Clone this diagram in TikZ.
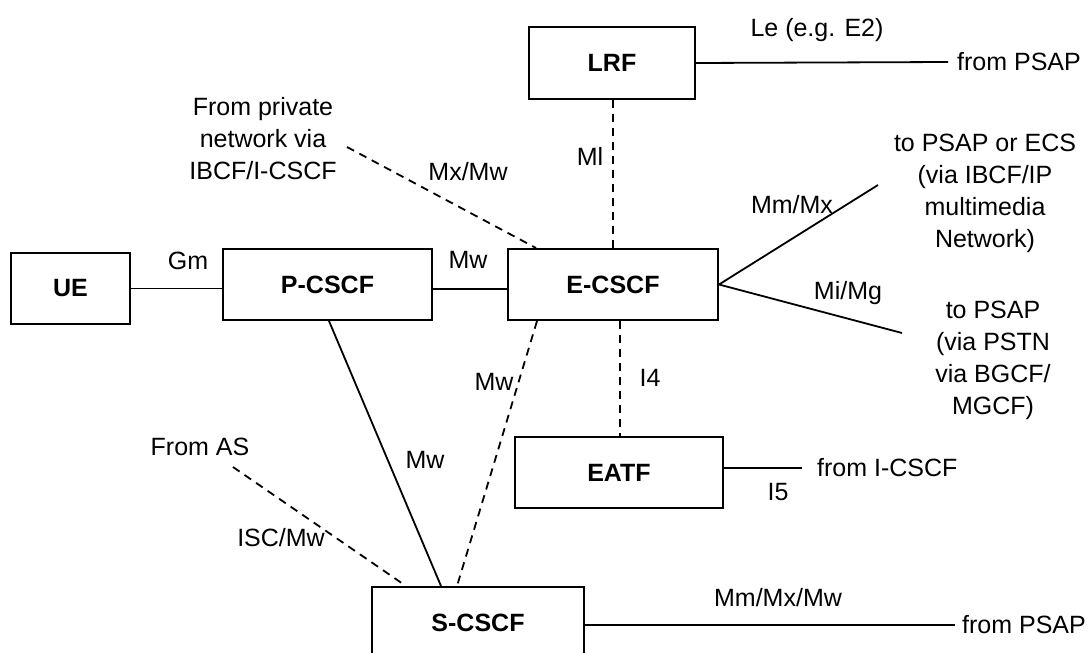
\documentclass[tikz,border=0pt]{standalone}
\usepackage{fontspec}
\setmainfont{Liberation Sans}
\begin{document}
\begin{tikzpicture}[x=1pt,y=-1pt,
  box/.style={draw,line width=2pt,font=\bfseries\fontsize{25}{30}\selectfont,minimum height=71pt,inner sep=0pt},
  lbl/.style={font=\fontsize{25}{30}\selectfont,inner sep=0pt},
  txt/.style={font=\fontsize{25}{32}\selectfont,align=center,inner sep=0pt},
  conn/.style={line width=1.8pt},
  dconn/.style={line width=1.8pt,dash pattern=on 8pt off 6pt}]
\useasboundingbox (0,0) rectangle (1090,653);
\clip (0,0) rectangle (1090,653);
% boxes
\node[box,minimum width=119pt] (UE) at (70.5,288.5) {UE};
\node[box,minimum width=209pt] (PCSCF) at (327.5,284.5) {P-CSCF};
\node[box,minimum width=210pt] (ECSCF) at (613,284.5) {E-CSCF};
\node[box,minimum width=166pt,minimum height=72pt] (LRF) at (612,63) {LRF};
\node[box,minimum width=208pt] (EATF) at (619,472.5) {EATF};
\node[box,minimum width=212pt,minimum height=72pt] (SCSCF) at (478,623) {S-CSCF};
% free texts
\node[txt] (tPriv) at (263,139) {From private\\network via\\IBCF/I-CSCF};
\node[txt] (tEcs) at (985,193) {to PSAP or ECS\\(via IBCF/IP\\multimedia\\Network)};
\node[txt] (tPstn) at (993,360) {to PSAP\\(via PSTN\\via BGCF/\\MGCF)};
\node[lbl] (tAS) at (200,447) {From AS};
\node[lbl,anchor=west] (tPsap1) at (957,62) {from PSAP};
\node[lbl,anchor=west] (tPsap2) at (962,625) {from PSAP};
\node[lbl,anchor=west] (tIcscf) at (817,468) {from I-CSCF};
% free ends
\coordinate (leEnd) at (948,62);
\coordinate (mmEnd) at (878,185);
\coordinate (miEnd) at (902,333);
\coordinate (privEnd) at (347,147);
\coordinate (asEnd) at (233,467);
\coordinate (icscfEnd) at (802,468);
\coordinate (psapEnd) at (955,625);
% connectors
\draw[conn] (UE.east) -- (UE.east -| PCSCF.west);
\draw[conn] ([yshift=-4.5pt]PCSCF.east) -- ([yshift=-4.5pt]ECSCF.west);
\draw[conn] (LRF.east) -- (leEnd);
\draw[dconn] (LRF.south -| ECSCF.north) -- (ECSCF.north);
\draw[dconn] (privEnd) -- ([xshift=29pt]ECSCF.north west);
\draw[conn] (ECSCF.east) -- (mmEnd);
\draw[conn] (ECSCF.east) -- (miEnd);
\draw[dconn] ([xshift=7pt]ECSCF.south) -- ([xshift=1pt]EATF.north);
\draw[conn] ([yshift=4.5pt]EATF.east) -- (icscfEnd);
\draw[conn] ([xshift=107pt]PCSCF.south west) -- ([xshift=70pt]SCSCF.north west);
\draw[dconn] ([xshift=30pt]ECSCF.south west) -- ([xshift=86pt]SCSCF.north west);
\draw[dconn] (asEnd) -- ([xshift=35pt]SCSCF.north west);
\draw[conn] ([yshift=-2pt]SCSCF.east) -- (psapEnd);
% labels
\node[lbl] (lGm) at (188,261) {Gm};
\node[lbl] (lMwPE) at (468,260) {Mw};
\node[lbl] (lMxMw) at (468,172) {Mx/Mw};
\node[lbl] (lMl) at (590,156) {Ml};
\node[lbl] (lLe) at (817,30) {Le (e.g. E2)};
\node[lbl] (lMmMx) at (792,205) {Mm/Mx};
\node[lbl] (lMiMg) at (848,293) {Mi/Mg};
\node[lbl] (lI4) at (650,378) {I4};
\node[lbl] (lMwES) at (494,382) {Mw};
\node[lbl] (lMwPS) at (425,460) {Mw};
\node[lbl] (lISC) at (281,538) {ISC/Mw};
\node[lbl] (lI5) at (778,492) {I5};
\node[lbl] (lMmMxMw) at (778,598) {Mm/Mx/Mw};
\end{tikzpicture}
\end{document}
